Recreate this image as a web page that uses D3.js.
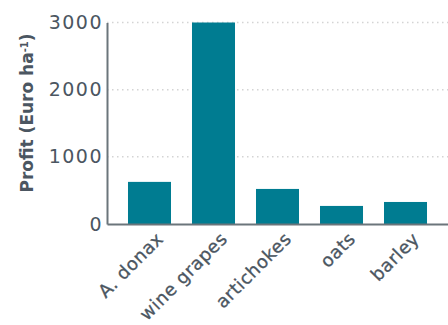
<!DOCTYPE html>
<html>
<head>
<meta charset="utf-8">
<script src="https://cdn.jsdelivr.net/npm/d3@7"></script>
<style>
  body { margin: 0; background: #fff; }
  text { font-family: "DejaVu Sans", sans-serif; fill: #4b5661; }
</style>
</head>
<body>
<div id="chart-area"></div>
<script>
var crops = ["A. donax", "wine grapes", "artichokes", "oats", "barley"];
var profit = [627, 3000, 522, 269, 328];
var yTicks = [0, 1000, 2000, 3000];

var width = 448, height = 325;
var svg = d3.select("#chart-area").append("svg")
    .attr("width", width)
    .attr("height", height);

// Scales
var x = d3.scaleBand()
    .domain(crops)
    .range([107, 448])
    .paddingInner(0.328)
    .paddingOuter(0.328);

var y = d3.scaleLinear()
    .domain([0, 3000])
    .range([224, 22.5]);

// gridlines
svg.append("g").selectAll("line")
    .data(yTicks.filter(function(d) { return d > 0; }))
    .enter().append("line")
    .attr("x1", 107).attr("x2", 448)
    .attr("y1", function(d) { return y(d); })
    .attr("y2", function(d) { return y(d); })
    .attr("stroke", "#d4d4d4")
    .attr("stroke-width", 1.5)
    .attr("stroke-dasharray", "1.5,3.5");

// bars
svg.selectAll(".bar")
    .data(crops)
    .enter().append("rect")
    .attr("class", "bar")
    .attr("x", function(d) { return x(d); })
    .attr("y", function(d, i) { return y(profit[i]); })
    .attr("width", x.bandwidth())
    .attr("height", function(d, i) { return y(0) - y(profit[i]); })
    .attr("fill", "#007c91");

// axes
var yAxis = svg.append("g")
    .attr("transform", "translate(107,0)")
    .call(d3.axisLeft(y).tickValues(yTicks).tickSize(0).tickPadding(4).tickFormat(d3.format("d")));
yAxis.select(".domain").attr("stroke", "#6b757b").attr("stroke-width", 2);
yAxis.selectAll("text")
    .style("font-size", "19px")
    .style("letter-spacing", "1.5px")
    .style("fill", "#4b5661");

var xAxis = svg.append("g")
    .attr("transform", "translate(0,224)")
    .call(d3.axisBottom(x).tickSize(0).tickPadding(0));
xAxis.select(".domain").attr("stroke", "#6b757b").attr("stroke-width", 2);
xAxis.selectAll("text")
    .style("font-size", "18px")
    .style("letter-spacing", "0.5px")
    .style("fill", "#4b5661")
    .style("stroke", "#4b5661")
    .style("stroke-width", "0.3px")
    .attr("text-anchor", "end")
    .attr("dy", "0")
    .attr("transform", "translate(15,16) rotate(-45)");

// axis title
svg.append("text")
    .attr("transform", "translate(33,113) rotate(-90)")
    .attr("text-anchor", "middle")
    .style("font-size", "17px")
    .style("font-weight", "bold")
    .text("Profit (Euro ha")
    .append("tspan").attr("baseline-shift", "super").style("font-size", "10px").text("-1")
    .select(function() { return this.parentNode; })
    .append("tspan").text(")");
</script>
</body>
</html>
